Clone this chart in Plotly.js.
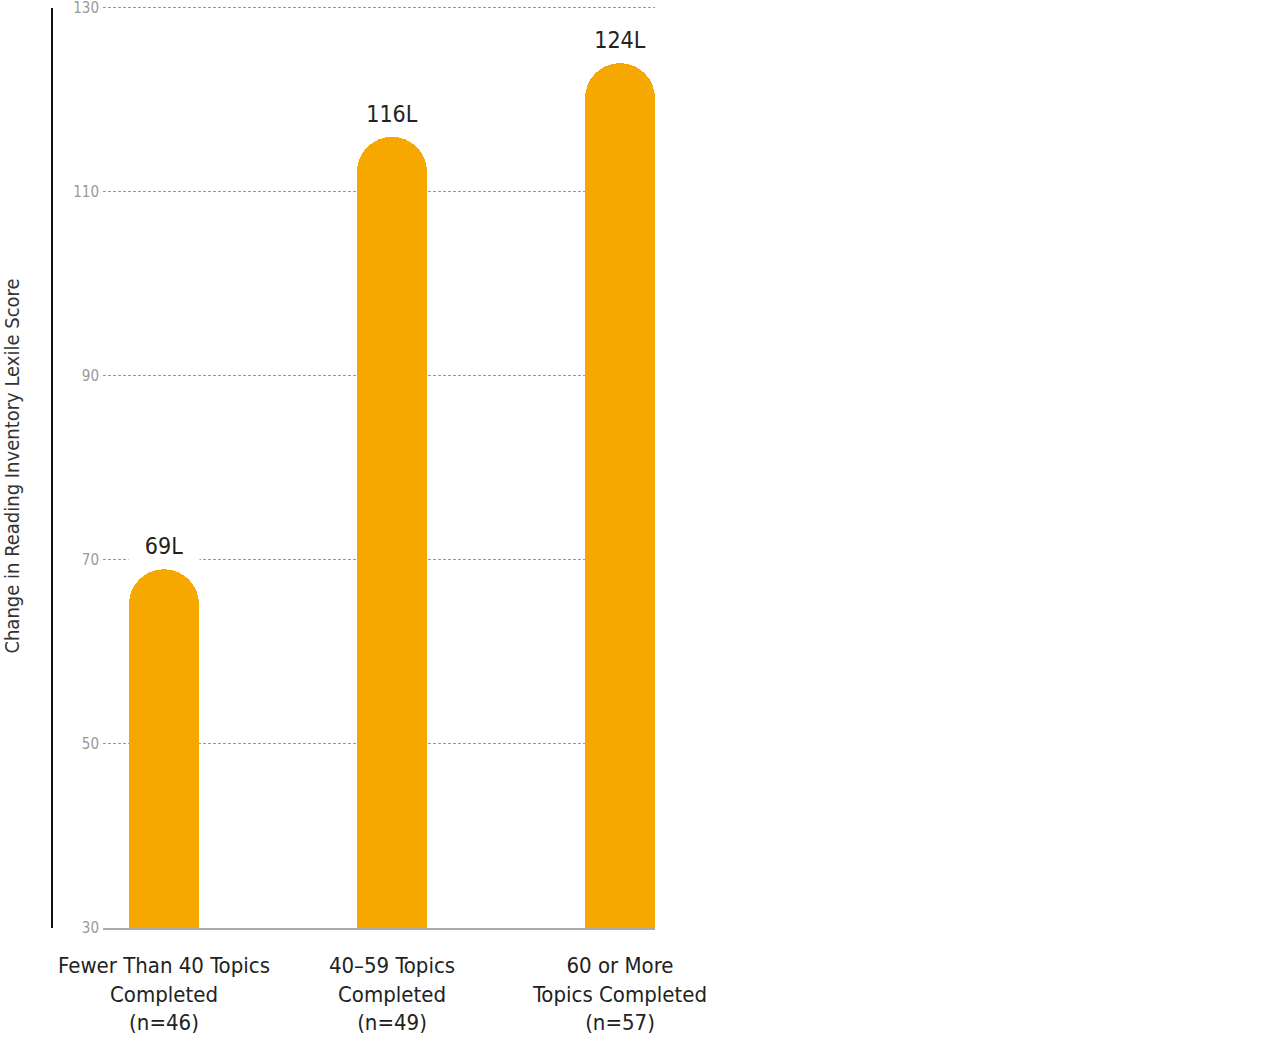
<!DOCTYPE html>
<html>
<head>
<meta charset="utf-8">
<script src="https://cdn.plot.ly/plotly-3.0.1.min.js"></script>
<style>html,body{margin:0;padding:0;background:#fff;}#chart{width:1280px;height:1046px;}</style>
</head>
<body>
<div id="chart"></div>
<script>
var categories = ["Fewer Than 40 Topics<br>Completed<br>(n=46)", "40\u201359 Topics<br>Completed<br>(n=49)", "60 or More<br>Topics Completed<br>(n=57)"];
var values = [69, 116, 124];
var valueLabels = ["69L", "116L", "124L"];
var yTicks = [30, 50, 70, 90, 110, 130];
var yTitle = "Change in Reading Inventory Lexile Score";

var FONT = '"Liberation Sans Narrow", "DejaVu Sans Condensed", "Arial Narrow", sans-serif';
var idx = categories.map(function(c, i){ return i; });

var trace = {
  type: 'bar',
  x: idx,
  y: values,
  width: 0.307,
  marker: {color: '#F6A800', cornerradius: '50%', line: {width: 0}},
  hoverinfo: 'skip',
  cliponaxis: true
};

var annotations = values.map(function(v, i){
  return {
    x: i, y: v, xref: 'x', yref: 'y',
    text: valueLabels[i], showarrow: false,
    xanchor: 'center', yanchor: 'bottom', yshift: 2,
    width: 70, height: 40, bgcolor: '#ffffff', borderpad: 0,
    font: {family: FONT, size: 23, color: '#222222'}
  };
});

var layout = {
  width: 1280, height: 1046,
  margin: {l: 103, r: 625, t: 4, b: 118, pad: 0},
  paper_bgcolor: '#ffffff', plot_bgcolor: '#ffffff',
  showlegend: false,
  bargap: 0,
  font: {family: FONT},
  xaxis: {
    range: [-0.2675, 2.1535],
    tickmode: 'array', tickvals: idx, ticktext: categories,
    showgrid: false, zeroline: false,
    showline: true, linecolor: '#aaaaaa', linewidth: 1.5,
    ticks: '', ticklabelstandoff: 17,
    tickfont: {family: FONT, size: 22, color: '#222222'},
    ticklabeloverflow: 'allow',
    fixedrange: true
  },
  yaxis: {
    range: [30, 130.43],
    tickmode: 'array', tickvals: yTicks,
    showgrid: true, gridcolor: '#999999', gridwidth: 1, griddash: '3px,2px',
    zeroline: false, showline: false, ticks: '', ticklabelstandoff: 3,
    tickfont: {family: FONT, size: 15, color: '#999999'},
    ticklabeloverflow: 'allow',
    title: {text: yTitle, standoff: 50, font: {family: FONT, size: 20, color: '#333333'}},
    fixedrange: true
  },
  shapes: [{
    type: 'line', xref: 'paper', yref: 'y',
    x0: -0.0924, x1: -0.0924, y0: 30, y1: 130,
    line: {color: '#111111', width: 2}
  }],
  annotations: annotations
};

Plotly.newPlot('chart', [trace], layout, {displayModeBar: false, staticPlot: true});
</script>
</body>
</html>
